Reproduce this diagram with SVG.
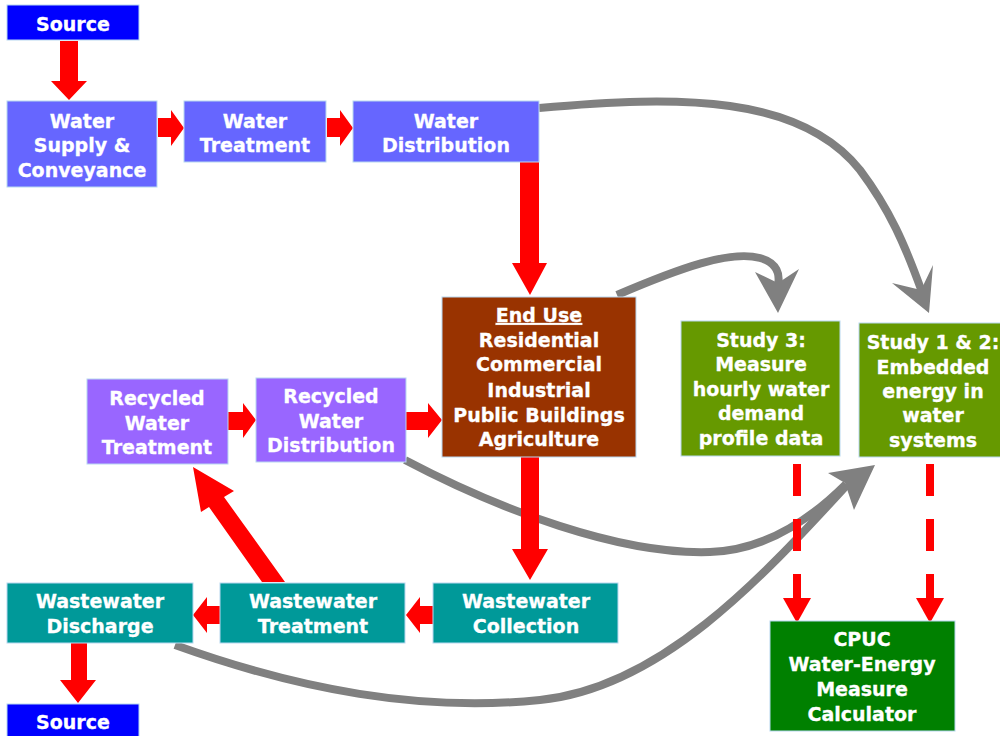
<svg xmlns="http://www.w3.org/2000/svg" width="1000" height="736" viewBox="0 0 1000 736">
<style>
.box{stroke:#b8d8f0;stroke-width:1}
.t{font-family:"DejaVu Sans","Liberation Sans",sans-serif;font-weight:bold;font-size:19px;fill:#ffffff;stroke:#ffffff;stroke-width:0.3;text-anchor:middle}
.red{fill:#ff0000}
.gray{fill:none;stroke:#808080;stroke-width:8}
.grayhead{fill:#808080}
.dash{stroke:#ff0000;stroke-width:8;stroke-dasharray:32 23;fill:none}
</style>
<rect width="1000" height="736" fill="#ffffff"/>

<g id="connectors">
  <!-- gray curved connectors -->
  <path class="gray" d="M539,108 C680,95 800,95 860,170 C890,210 905,245 922,292"/>
  <polygon class="grayhead" points="929,313 892,283 921,290 933,265"/>
  <path class="gray" d="M617,295 C680,268 730,250 760,258 C778,263 780,275 778,285"/>
  <polygon class="grayhead" points="778,313 755,272 778,283 799,269"/>
  <path class="gray" d="M405,460 C500,510 620,555 710,552 C770,550 815,515 846,484"/>
  <path class="gray" d="M175,645 C300,690 420,712 540,700 C660,688 760,580 846,486"/>
  <polygon class="grayhead" points="875,465 828,473 845,483 854,510"/>

  <!-- red block arrows -->
  <polygon class="red" points="60,41 78,41 78,81 87,81 69,100 51,81 60,81"/>
  <polygon class="red" points="158,118 171,118 171,110 184,128 171,146 171,137 158,137"/>
  <polygon class="red" points="327,118 340,118 340,110 353,128 340,146 340,137 327,137"/>
  <polygon class="red" points="520,162 539,162 539,263 547,263 530,295 512,263 520,263"/>
  <polygon class="red" points="228,412 243,412 243,403 256,420 243,438 243,430 228,430"/>
  <polygon class="red" points="406,412 428,412 428,403 442,420 428,438 428,430 406,430"/>
  <polygon class="red" points="521,457 539,457 539,549 548,549 530,580 512,549 521,549"/>
  <polygon class="red" points="433,606 420,606 420,597 406,615 420,633 420,624 433,624"/>
  <polygon class="red" points="220,606 207,606 207,597 193,615 207,633 207,624 220,624"/>
  <polygon class="red" points="71,643 87,643 87,680 96,680 78,703 60,680 71,680"/>
  <polygon class="red" points="193,467 234,491 224,497 285,582 262,582 209,507 201,512"/>

  <!-- red dashed arrows -->
  <line class="dash" x1="797" y1="464" x2="797" y2="598"/>
  <polygon class="red" points="783,598 811,598 797,623"/>
  <line class="dash" x1="930" y1="464" x2="930" y2="598"/>
  <polygon class="red" points="916,598 944,598 930,623"/>
</g>

<g id="source-top">
  <rect class="box" x="7" y="5" width="132" height="35" fill="#0000ff"/>
  <text class="t" x="73" y="31">Source</text>
</g>
<g id="water-supply">
  <rect class="box" x="7" y="101" width="150" height="86" fill="#6666ff"/>
  <text class="t" x="82" y="128">Water</text>
  <text class="t" x="82" y="152">Supply &amp;</text>
  <text class="t" x="82" y="177">Conveyance</text>
</g>
<g id="water-treatment">
  <rect class="box" x="184" y="101" width="142" height="61" fill="#6666ff"/>
  <text class="t" x="255" y="128">Water</text>
  <text class="t" x="255" y="152">Treatment</text>
</g>
<g id="water-distribution">
  <rect class="box" x="353" y="101" width="186" height="61" fill="#6666ff"/>
  <text class="t" x="446" y="128">Water</text>
  <text class="t" x="446" y="152">Distribution</text>
</g>
<g id="end-use">
  <rect class="box" x="442" y="297" width="194" height="160" fill="#993300"/>
  <text class="t" x="539" y="322" text-decoration="underline">End Use</text>
  <text class="t" x="539" y="347">Residential</text>
  <text class="t" x="539" y="371">Commercial</text>
  <text class="t" x="539" y="397">Industrial</text>
  <text class="t" x="539" y="422">Public Buildings</text>
  <text class="t" x="539" y="446">Agriculture</text>
</g>
<g id="study3">
  <rect class="box" x="681" y="321" width="159" height="135" fill="#669900"/>
  <text class="t" x="761" y="347">Study 3:</text>
  <text class="t" x="761" y="371">Measure</text>
  <text class="t" x="761" y="396">hourly water</text>
  <text class="t" x="761" y="420">demand</text>
  <text class="t" x="761" y="445">profile data</text>
</g>
<g id="study12">
  <rect class="box" x="859" y="323" width="150" height="134" fill="#669900"/>
  <text class="t" x="933" y="349">Study 1 &amp; 2:</text>
  <text class="t" x="933" y="374">Embedded</text>
  <text class="t" x="933" y="398">energy in</text>
  <text class="t" x="933" y="422">water</text>
  <text class="t" x="933" y="447">systems</text>
</g>
<g id="recycled-treatment">
  <rect class="box" x="87" y="379" width="141" height="85" fill="#9966ff"/>
  <text class="t" x="157" y="405">Recycled</text>
  <text class="t" x="157" y="430">Water</text>
  <text class="t" x="157" y="454">Treatment</text>
</g>
<g id="recycled-distribution">
  <rect class="box" x="256" y="378" width="150" height="84" fill="#9966ff"/>
  <text class="t" x="331" y="403">Recycled</text>
  <text class="t" x="331" y="428">Water</text>
  <text class="t" x="331" y="452">Distribution</text>
</g>
<g id="wastewater-discharge">
  <rect class="box" x="7" y="583" width="186" height="60" fill="#009999"/>
  <text class="t" x="100" y="608">Wastewater</text>
  <text class="t" x="100" y="633">Discharge</text>
</g>
<g id="wastewater-treatment">
  <rect class="box" x="220" y="583" width="185" height="60" fill="#009999"/>
  <text class="t" x="313" y="608">Wastewater</text>
  <text class="t" x="313" y="633">Treatment</text>
</g>
<g id="wastewater-collection">
  <rect class="box" x="433" y="583" width="185" height="60" fill="#009999"/>
  <text class="t" x="526" y="608">Wastewater</text>
  <text class="t" x="526" y="633">Collection</text>
</g>
<g id="source-bottom">
  <rect class="box" x="7" y="704" width="132" height="35" fill="#0000ff"/>
  <text class="t" x="73" y="729">Source</text>
</g>
<g id="cpuc">
  <rect class="box" x="770" y="621" width="185" height="110" fill="#008000"/>
  <text class="t" x="862" y="646">CPUC</text>
  <text class="t" x="862" y="671">Water-Energy</text>
  <text class="t" x="862" y="696">Measure</text>
  <text class="t" x="862" y="721">Calculator</text>
</g>
</svg>
